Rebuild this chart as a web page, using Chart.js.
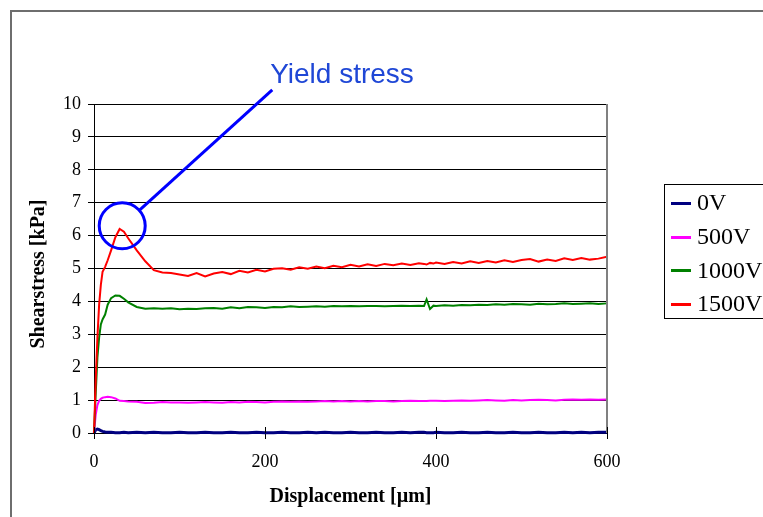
<!DOCTYPE html>
<html>
<head>
<meta charset="utf-8">
<script src="https://cdn.jsdelivr.net/npm/chart.js@4.4.1/dist/chart.umd.min.js"></script>
<style>
  html, body { margin: 0; padding: 0; background: #fff; }
  #chart { display: block; }
</style>
</head>
<body>
<canvas id="chart" width="763" height="517"></canvas>
<script>
// displacement in µm, shared by all series
const displacement = [0, 2, 4, 6, 8, 10, 13, 16, 20, 25, 30, 35, 40,
  50, 60, 70, 80, 90, 100, 110, 120, 130, 140, 150, 160, 170, 180, 190, 200,
  210, 220, 230, 240, 250, 260, 270, 280, 290, 300, 310, 320, 330, 340, 350, 360, 370, 380,
  386, 389, 393, 397,
  400, 410, 420, 430, 440, 450, 460, 470, 480, 490, 500, 510, 520, 530, 540, 550, 560, 570, 580, 590, 600];

// shear stress in kPa
const stress0V = [0, 0.10, 0.12, 0.10, 0.07, 0.05, 0.03, 0.02, 0.02, 0.01, 0.01, 0.02, 0.01,
  0.02, 0.01, 0.02, 0.01, 0.01, 0.02, 0.01, 0.01, 0.02, 0.01, 0.01, 0.02, 0.01, 0.01, 0.02,
  0.01, 0.01, 0.02, 0.01, 0.01, 0.02, 0.01, 0.02, 0.01, 0.01, 0.02, 0.01, 0.01, 0.02, 0.01,
  0.01, 0.02, 0.01, 0.02,
  0.02, 0.01, 0.01, 0.01,
  0.02, 0.01, 0.01, 0.02, 0.01, 0.01, 0.02, 0.01, 0.01, 0.02, 0.01, 0.01, 0.02, 0.01, 0.01,
  0.02, 0.01, 0.02, 0.01, 0.02, 0.02];

const stress500V = [0, 0.55, 0.85, 0.98, 1.04, 1.07, 1.09, 1.10, 1.09, 1.05, 0.98, 0.97, 0.96,
  0.95, 0.91, 0.92, 0.94, 0.93, 0.93, 0.92, 0.93, 0.94, 0.93, 0.92, 0.94, 0.93, 0.95, 0.94,
  0.93, 0.95, 0.96, 0.95, 0.96, 0.95, 0.96, 0.97, 0.96, 0.97, 0.96, 0.97, 0.96, 0.97, 0.97,
  0.96, 0.97, 0.98, 0.97,
  0.97, 0.97, 0.98, 0.98,
  0.98, 0.97, 0.98, 0.99, 0.98, 0.99, 1.00, 0.99, 0.98, 1.00, 0.99, 1.00, 1.01, 1.00, 0.99,
  1.01, 1.02, 1.01, 1.02, 1.01, 1.02];

const stress1000V = [0, 1.2, 2.3, 2.9, 3.3, 3.45, 3.6, 3.9, 4.1, 4.18, 4.17, 4.08, 3.97,
  3.83, 3.78, 3.79, 3.78, 3.79, 3.76, 3.78, 3.77, 3.79, 3.80, 3.78, 3.82, 3.79, 3.83, 3.82,
  3.80, 3.83, 3.82, 3.85, 3.83, 3.84, 3.85, 3.84, 3.86, 3.85, 3.86, 3.85, 3.86, 3.86, 3.85,
  3.86, 3.87, 3.86, 3.87,
  3.86, 4.06, 3.77, 3.87,
  3.86, 3.88, 3.87, 3.89, 3.88, 3.90, 3.89, 3.91, 3.90, 3.92, 3.91, 3.90, 3.93, 3.91, 3.92,
  3.94, 3.92, 3.93, 3.94, 3.92, 3.94];

const stress1500V = [0, 1.6, 2.9, 3.9, 4.5, 4.9, 5.05, 5.25, 5.55, 5.95, 6.2, 6.12, 5.92,
  5.55, 5.22, 4.95, 4.88, 4.86, 4.82, 4.77, 4.86, 4.76, 4.85, 4.89, 4.83, 4.93, 4.88, 4.96,
  4.91, 4.99, 5.01, 4.96, 5.04, 4.99, 5.06, 5.01, 5.08, 5.04, 5.11, 5.06, 5.13, 5.08, 5.14,
  5.10, 5.15, 5.11, 5.16,
  5.14, 5.12, 5.17, 5.15,
  5.18, 5.14, 5.20, 5.15, 5.22, 5.17, 5.23, 5.18, 5.25, 5.20, 5.26, 5.29, 5.21, 5.27, 5.23,
  5.31, 5.26, 5.32, 5.27, 5.30, 5.36];

const seriesLabels = ['0V', '500V', '1000V', '1500V'];
const seriesColors = ['#000080', '#ff00ff', '#008000', '#ff0000'];
const seriesValues = [stress0V, stress500V, stress1000V, stress1500V];

const xTickValues = [0, 200, 400, 600];
const yTickValues = [0, 1, 2, 3, 4, 5, 6, 7, 8, 9, 10];

// callout: circle round the peak, leader line, label (data coords)
const yieldCallout = { label: 'Yield stress', cx: 33, cy: 6.3, radius: 23, lineTo: [208.5, 10.43], textAt: [206, 10.63] };

const SERIF = "'Liberation Serif', 'Times New Roman', serif";

const datasets = seriesLabels.map((label, i) => ({
  label,
  data: displacement.map((x, j) => ({ x, y: seriesValues[i][j] })),
  borderColor: seriesColors[i],
  backgroundColor: seriesColors[i],
  borderWidth: i === 0 ? 3 : 2,
  pointRadius: 0,
  tension: 0,
  clip: 5,
  order: seriesLabels.length - i // later series on top
}));

const decor = {
  id: 'decor',
  beforeDraw(chart) {
    const ctx = chart.ctx;
    ctx.save();
    ctx.fillStyle = '#fff';
    ctx.fillRect(0, 0, chart.width, chart.height);
    ctx.restore();
  },
  afterDraw(chart) {
    const ctx = chart.ctx;
    const area = chart.chartArea;
    const xs = chart.scales.x, ys = chart.scales.y;
    ctx.save();

    // right edge of plot area
    ctx.strokeStyle = '#808080';
    ctx.lineWidth = 2;
    ctx.beginPath();
    ctx.moveTo(area.right, area.top);
    ctx.lineTo(area.right, area.bottom);
    ctx.stroke();

    // cross tick marks on x axis (inner half)
    ctx.strokeStyle = '#000';
    ctx.lineWidth = 1;
    xTickValues.forEach(v => {
      const px = Math.round(xs.getPixelForValue(v)) + 0.5;
      ctx.beginPath();
      ctx.moveTo(px, area.bottom - 6);
      ctx.lineTo(px, area.bottom);
      ctx.stroke();
    });

    // axis titles
    ctx.fillStyle = '#000';
    ctx.font = 'bold 20px ' + SERIF;
    ctx.textAlign = 'center';
    ctx.textBaseline = 'middle';
    ctx.fillText('Displacement [µm]', (area.left + area.right) / 2, 497);
    ctx.save();
    ctx.translate(39, 274);
    ctx.rotate(-Math.PI / 2);
    ctx.fillText('Shearstress [kPa]', 0, 0);
    ctx.restore();

    // legend box
    ctx.strokeStyle = '#000';
    ctx.lineWidth = 1;
    ctx.strokeRect(664.5, 184.5, 160, 134);
    ctx.font = '24px ' + SERIF;
    ctx.textAlign = 'left';
    ctx.textBaseline = 'middle';
    seriesLabels.forEach((label, i) => {
      const y = 203 + i * 33.7;
      ctx.strokeStyle = seriesColors[i];
      ctx.lineWidth = 3;
      ctx.beginPath();
      ctx.moveTo(671, Math.round(y) + 0.5);
      ctx.lineTo(691, Math.round(y) + 0.5);
      ctx.stroke();
      ctx.fillStyle = '#000';
      ctx.fillText(label, 697, y + 1);
    });

    // yield stress callout
    const cx = xs.getPixelForValue(yieldCallout.cx);
    const cy = ys.getPixelForValue(yieldCallout.cy);
    const ex = xs.getPixelForValue(yieldCallout.lineTo[0]);
    const ey = ys.getPixelForValue(yieldCallout.lineTo[1]);
    const ang = Math.atan2(ey - cy, ex - cx);
    ctx.strokeStyle = '#0000ff';
    ctx.lineWidth = 3;
    ctx.beginPath();
    ctx.arc(cx, cy, yieldCallout.radius, 0, Math.PI * 2);
    ctx.stroke();
    ctx.beginPath();
    ctx.moveTo(cx + Math.cos(ang) * yieldCallout.radius, cy + Math.sin(ang) * yieldCallout.radius);
    ctx.lineTo(ex, ey);
    ctx.stroke();
    ctx.fillStyle = '#1f47d6';
    ctx.font = "28px 'Liberation Sans', Arial, sans-serif";
    ctx.textAlign = 'left';
    ctx.textBaseline = 'alphabetic';
    ctx.fillText(yieldCallout.label, xs.getPixelForValue(yieldCallout.textAt[0]), ys.getPixelForValue(yieldCallout.textAt[1]));

    // outer frame
    ctx.strokeStyle = '#6e6e6e';
    ctx.lineWidth = 2;
    ctx.strokeRect(11, 11, 900, 700);
    ctx.restore();
  }
};

new Chart(document.getElementById('chart'), {
  type: 'line',
  data: { datasets },
  options: {
    responsive: false,
    animation: false,
    devicePixelRatio: 1,
    layout: { padding: { left: 0, top: 104, right: 156, bottom: 0 } },
    plugins: { legend: { display: false }, tooltip: { enabled: false } },
    scales: {
      x: {
        type: 'linear',
        min: 0,
        max: 600,
        afterFit: s => { s.height = 84; },
        afterBuildTicks: s => { s.ticks = xTickValues.map(v => ({ value: v })); },
        grid: { drawOnChartArea: false, tickLength: 6, color: '#000', lineWidth: 1 },
        border: { color: '#000', width: 1 },
        ticks: { color: '#000', font: { family: SERIF, size: 18 }, padding: 12, maxRotation: 0 }
      },
      y: {
        type: 'linear',
        min: 0,
        max: 10,
        afterFit: s => { s.width = 94; },
        afterBuildTicks: s => { s.ticks = yTickValues.map(v => ({ value: v })); },
        grid: { color: '#000', lineWidth: 1, tickLength: 6 },
        border: { color: '#000', width: 1 },
        ticks: { color: '#000', font: { family: SERIF, size: 18 }, padding: 7 }
      }
    }
  },
  plugins: [decor]
});
</script>
</body>
</html>
